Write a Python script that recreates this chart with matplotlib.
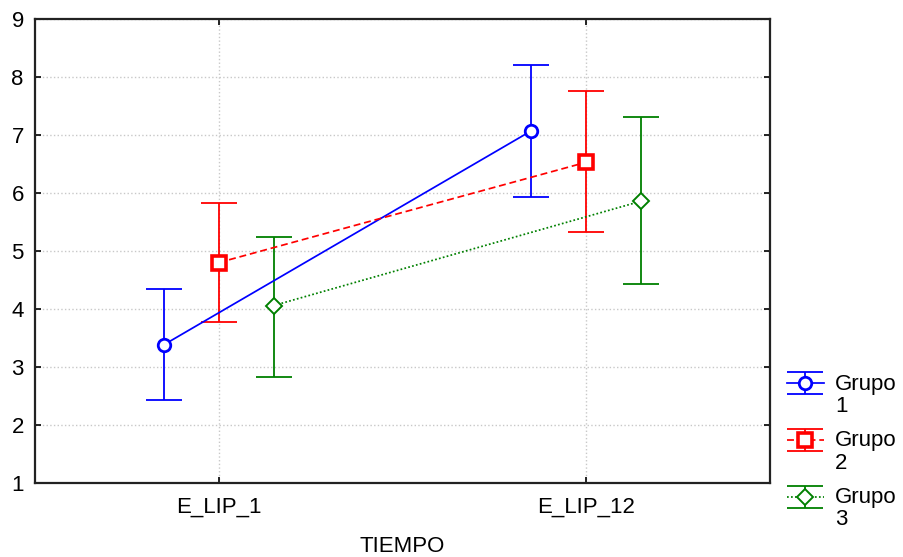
import matplotlib
matplotlib.use('Agg')
import matplotlib.pyplot as plt
from matplotlib.legend_handler import HandlerTuple
import numpy as np

plt.rcParams['font.family'] = ['Liberation Sans', 'DejaVu Sans']

# datos
tiempos = ['E_LIP_1', 'E_LIP_12']
grupos = ['Grupo\n1', 'Grupo\n2', 'Grupo\n3']
medias = [
    [3.38, 7.07],
    [4.80, 6.53],
    [4.06, 5.86],
]
sup = [
    [4.35, 8.21],
    [5.83, 7.76],
    [5.25, 7.31],
]
inf = [
    [2.43, 5.93],
    [3.77, 5.33],
    [2.83, 4.43],
]

colores = ['#0000ff', '#ff0000', '#008000']
marcadores = ['o', 's', 'D']
estilos = ['-', (0, (4, 2.2)), (0, (1, 1.3))]
tam_marcador = [9, 9.5, 8.5]
borde = [2.0, 2.6, 1.4]
desplaz = [-0.15, 0.0, 0.15]
FS = 16


class HandlerArriba(HandlerTuple):
    """sube el simbolo hasta la primera linea del texto"""
    def create_artists(self, legend, orig_handle, xdescent, ydescent,
                       width, height, fontsize, trans):
        return super().create_artists(legend, orig_handle, xdescent,
                                      ydescent - 1.1 * fontsize, width,
                                      height, fontsize, trans)


fig = plt.figure(figsize=(9.04, 5.57), dpi=100)
ax = fig.add_axes([0.0387, 0.1330, 0.8128, 0.8327])

x = np.arange(len(tiempos))
handles = []
for g in range(len(grupos)):
    m = np.array(medias[g])
    err = [m - np.array(inf[g]), np.array(sup[g]) - m]
    eb = ax.errorbar(x + desplaz[g], m, yerr=err, fmt='none',
                     ecolor=colores[g], elinewidth=1.3, capsize=13,
                     capthick=1.3, zorder=2)
    ln, = ax.plot(x + desplaz[g], m, color=colores[g],
                  linestyle=estilos[g], linewidth=1.25,
                  marker=marcadores[g], markersize=tam_marcador[g],
                  markerfacecolor='white', markeredgecolor=colores[g],
                  markeredgewidth=borde[g], zorder=3)
    handles.append((eb, ln))

ax.set_xlim(-0.5, 1.5)
ax.set_ylim(1, 9)
ax.set_xticks(x)
ax.set_xticklabels(tiempos)
ax.set_yticks(range(1, 10))
ax.tick_params(direction='in', length=4, width=1.2, labelsize=FS,
               top=True, right=True)
ax.tick_params(axis='x', pad=10)
ax.tick_params(axis='y', pad=8)
ax.grid(True, color='#c8c8c8', linestyle=':', linewidth=1.0, zorder=0)
for s in ax.spines.values():
    s.set_linewidth(1.6)
    s.set_color('#222222')

ax.set_xlabel('TIEMPO', fontsize=FS, labelpad=13)

leg = ax.legend(handles, grupos, handler_map={tuple: HandlerArriba(ndivide=1, pad=0)},
                loc='upper left', bbox_to_anchor=(0.8706, 0.329),
                bbox_transform=fig.transFigure, frameon=False,
                fontsize=FS, handlelength=1.66, handletextpad=0.5,
                labelspacing=0.6, borderaxespad=0, borderpad=0)
for t in leg.get_texts():
    t.set_linespacing(1.08)

fig.savefig('out.png', dpi=100)
